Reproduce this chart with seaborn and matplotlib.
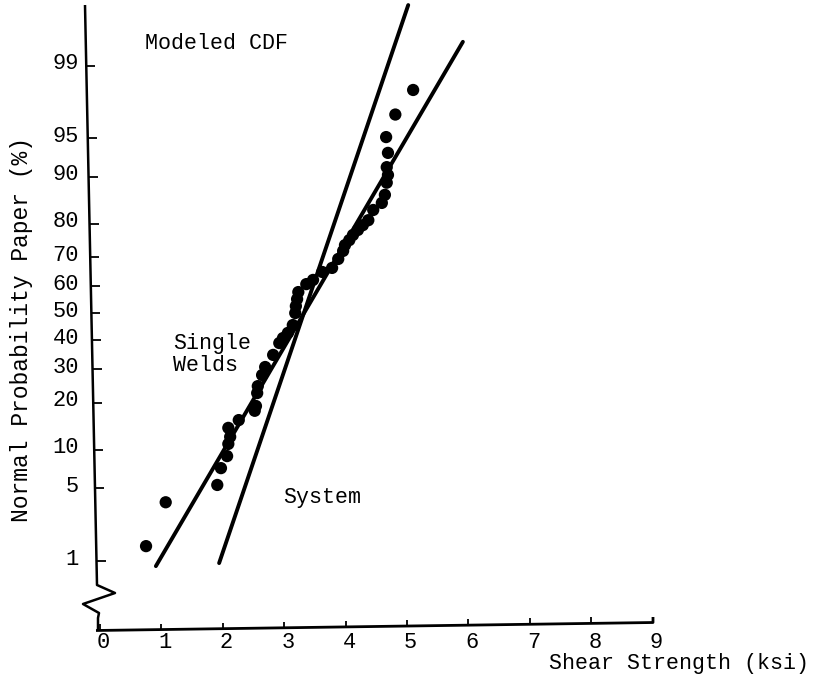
import matplotlib
matplotlib.use("Agg")
import matplotlib.pyplot as plt
import numpy as np
import pandas as pd
import seaborn as sns
from statistics import NormalDist

# Shear strength of individual welds (ksi) and their cumulative plotting positions (%)
strength_ksi = [0.75, 1.07, 1.91, 1.97, 2.07, 2.09, 2.12, 2.09, 2.26, 2.52, 2.54,
                2.56, 2.57, 2.64, 2.69, 2.82, 2.92, 2.98, 3.06, 3.14, 3.18, 3.19,
                3.21, 3.23, 3.36, 3.47, 3.62, 3.78, 3.88, 3.96, 3.99, 4.06, 4.12,
                4.20, 4.28, 4.37, 4.45, 4.59, 4.64, 4.67, 4.69, 4.67, 4.69, 4.66,
                4.81, 5.10]
cum_percent = [1.44, 3.8, 5.35, 7.3, 9.0, 11.0, 12.3, 14.1, 15.8, 18.0, 19.2,
               22.7, 24.7, 28.1, 30.7, 34.8, 39.0, 40.8, 42.7, 45.6, 50.1, 52.7,
               55.3, 57.9, 60.8, 62.3, 65.1, 66.5, 69.5, 72.1, 73.9, 75.4, 76.9,
               78.3, 79.6, 80.9, 83.4, 85.0, 86.7, 89.0, 90.3, 91.5, 93.4, 95.1,
               96.9, 98.2]

# Modeled normal CDFs (straight lines on probability paper)
single_welds_ksi = [0.91, 5.91]
single_welds_pct = [0.88, 99.46]
system_ksi = [1.94, 5.02]
system_pct = [0.95, 99.81]

prob_ticks = [1, 5, 10, 20, 30, 40, 50, 60, 70, 80, 90, 95, 99]
ksi_ticks = [0, 1, 2, 3, 4, 5, 6, 7, 8, 9]

W, H = 816, 677
PX_PER_KSI = 61.4
ORIGIN_X = 100.0
PX_PER_Z = 106.5
MID_Y = 313.3


def probit(p):
    return NormalDist().inv_cdf(p / 100.0)


def page(xp, yp):
    """Page pixel position -> (ksi, normal score) data coordinates."""
    return (xp - ORIGIN_X) / PX_PER_KSI, (MID_Y - yp) / PX_PER_Z


def to_page(x, z):
    return ORIGIN_X + x * PX_PER_KSI, MID_Y - z * PX_PER_Z


sns.set_theme(style="white")
plt.rcParams["font.family"] = ["Liberation Mono", "DejaVu Sans Mono"]

fig = plt.figure(figsize=(W / 100, H / 100), dpi=100)
ax = fig.add_axes([0, 0, 1, 1])
x0, z1 = page(0, 0)
x1, z0 = page(W, H)
ax.set_xlim(x0, x1)
ax.set_ylim(z0, z1)
ax.axis("off")

points = pd.DataFrame({"ksi": strength_ksi,
                       "z": [probit(p) for p in cum_percent]})
welds = pd.DataFrame({"ksi": single_welds_ksi,
                      "z": [probit(p) for p in single_welds_pct]})
system = pd.DataFrame({"ksi": system_ksi,
                       "z": [probit(p) for p in system_pct]})

ink = "black"
sns.lineplot(data=welds, x="ksi", y="z", ax=ax, color=ink, lw=2.8, sort=False)
sns.lineplot(data=system, x="ksi", y="z", ax=ax, color=ink, lw=2.8, sort=False)
sns.scatterplot(data=points, x="ksi", y="z", ax=ax, color=ink, s=78,
                edgecolor="none", zorder=3)
ax.set_xlabel("")
ax.set_ylabel("")


def draw_page_line(pts, **kw):
    xs, zs = zip(*[page(px, py) for px, py in pts])
    ax.plot(xs, zs, color=ink, solid_capstyle="butt", **kw)


# hand-drawn vertical axis with a break symbol
y_top, y_bot = 5.0, 585.0
ax_x_top, ax_x_bot = 85.0, 97.0


def y_axis_x(py):
    return ax_x_top + (py - y_top) * (ax_x_bot - ax_x_top) / (y_bot - y_top)


draw_page_line([(ax_x_top, y_top), (ax_x_bot, y_bot), (115, 593), (83, 604),
                (99, 613), (98, 618), (98, 631)], lw=1.8)

# horizontal axis
draw_page_line([(96, 630.5), (653, 622.5), (653, 617)], lw=2.0)

TICK_FS = 15.8

# y ticks and labels
for p in prob_ticks:
    z = probit(p)
    _, py = to_page(0, z)
    axx = y_axis_x(py)
    draw_page_line([(axx, py), (axx + 9, py)], lw=1.3)
    tx, tz = page(79, py - 2)
    ax.text(tx, tz, str(p), ha="right", va="center", fontsize=TICK_FS, color=ink)

# x ticks and labels
for k in ksi_ticks:
    px, _ = to_page(k, 0)
    base = 630.5 - (px - 96) * 8.0 / 557.0
    draw_page_line([(px, base), (px, base - 6)], lw=1.3)
    _, tz = page(0, 643)
    ax.text(k + 0.06, tz, str(k), ha="center", va="center", fontsize=TICK_FS,
            color=ink)

# annotations
def label(xp, yp, s, **kw):
    x, z = page(xp, yp)
    ax.text(x, z, s, color=ink, fontsize=15.6, **kw)


label(145, 43, "Modeled CDF", ha="left", va="center")
label(173, 343, "Single", ha="left", va="center")
label(173, 365, "Welds", ha="left", va="center")
label(283, 498, "System", ha="left", va="center")
label(549, 663, "Shear Strength (ksi)", ha="left", va="center")
x_lab, z_lab = page(22, 330)
ax.text(x_lab, z_lab, "Normal Probability Paper (%)", ha="center",
        va="center", rotation=90, fontsize=16.6, color=ink)

fig.savefig("out.png", dpi=100)
